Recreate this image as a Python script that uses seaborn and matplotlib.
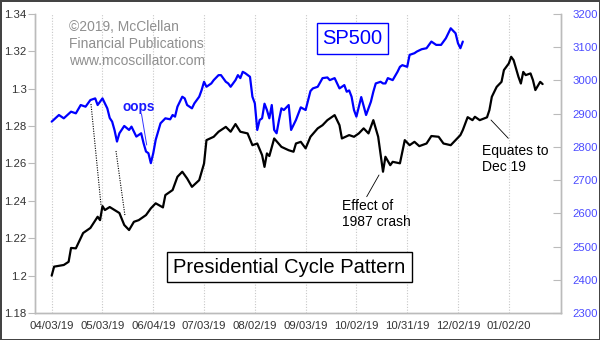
import matplotlib
matplotlib.use("Agg")
import matplotlib.pyplot as plt
from matplotlib.patches import Rectangle
from matplotlib.lines import Line2D
import seaborn as sns
import pandas as pd
import numpy as np

# ---------------- data ----------------
tick_days = [0, 21, 42, 63, 84, 105, 126, 147, 168, 189]
tick_labels = ["04/03/19", "05/03/19", "06/04/19", "07/03/19", "08/02/19",
               "09/03/19", "10/02/19", "10/31/19", "12/02/19", "01/02/20"]

cycle_days = [0, 1, 5, 7, 8, 10, 13, 16, 19, 20, 21, 22, 24, 26, 28, 30, 32, 34, 36, 39,
              41, 43, 46, 47, 50, 52, 54, 56, 58, 61, 63, 64, 67, 69, 72, 74, 76, 78, 81, 83,
              85, 87, 88, 89, 90, 92, 95, 98, 100, 101, 103, 105, 107, 110, 112, 114, 117, 119, 120, 123,
              125, 127, 129, 131, 133, 135, 137, 138, 140, 141, 144, 146, 148, 150, 152, 155, 157, 160, 162, 165,
              167, 169, 170, 172, 174, 175, 177, 180, 181, 182, 184, 186, 187, 189, 190, 191, 193, 194, 195, 196,
              198, 199, 200, 202, 203]
cycle_vals = [1.2000, 1.2048, 1.2057, 1.2074, 1.2148, 1.2146, 1.2228, 1.2255, 1.2315, 1.2297,
              1.2372, 1.2351, 1.2367, 1.2351, 1.2335, 1.2271, 1.2244, 1.2288, 1.2297, 1.2324,
              1.2360, 1.2387, 1.2365, 1.2431, 1.2458, 1.2529, 1.2556, 1.2520, 1.2475, 1.2511,
              1.2600, 1.2725, 1.2743, 1.2770, 1.2796, 1.2770, 1.2811, 1.2770, 1.2761, 1.2698,
              1.2707, 1.2645, 1.2582, 1.2654, 1.2640, 1.2734, 1.2689, 1.2671, 1.2663, 1.2707,
              1.2716, 1.2681, 1.2743, 1.2788, 1.2805, 1.2832, 1.2859, 1.2805, 1.2734, 1.2752,
              1.2743, 1.2761, 1.2788, 1.2761, 1.2832, 1.2743, 1.2556, 1.2636, 1.2591, 1.2609,
              1.2601, 1.2725, 1.2698, 1.2716, 1.2693, 1.2707, 1.2747, 1.2743, 1.2707, 1.2698,
              1.2725, 1.2752, 1.2779, 1.2848, 1.2832, 1.2850, 1.2832, 1.2847, 1.2886, 1.2957,
              1.3010, 1.3037, 1.3100, 1.3135, 1.3171, 1.3153, 1.3064, 1.3028, 1.3090, 1.3073,
              1.3082, 1.3046, 1.2993, 1.3037, 1.3025]

sp_days = [0, 3, 5, 8, 10, 12, 14, 16, 18, 19, 21, 23, 24, 25, 26, 27, 28, 30, 32, 33,
           35, 37, 38, 39, 40, 41, 42, 43, 45, 47, 49, 50, 51, 52, 54, 55, 56, 58, 59, 61,
           62, 63, 64, 66, 67, 69, 70, 72, 73, 74, 76, 77, 78, 79, 80, 82, 83, 84, 85, 86,
           87, 88, 89, 90, 91, 92, 93, 94, 95, 96, 98, 99, 100, 101, 103, 105, 107, 108, 110, 112,
           114, 115, 117, 119, 121, 122, 123, 124, 125, 126, 128, 130, 132, 133, 134, 136, 137, 138, 139, 141,
           143, 144, 145, 147, 148, 150, 151, 153, 155, 157, 159, 161, 163, 165, 167, 168, 169, 170]
sp_vals = [2876, 2896, 2886, 2906, 2901, 2926, 2921, 2941, 2946, 2926,
           2946, 2916, 2887, 2876, 2850, 2816, 2841, 2863, 2851, 2861,
           2831, 2841, 2811, 2786, 2781, 2751, 2781, 2821, 2871, 2886,
           2883, 2896, 2891, 2921, 2951, 2946, 2926, 2916, 2931, 2951,
           2971, 2996, 2981, 2991, 3001, 3016, 3016, 2996, 2991, 2981,
           3001, 3016, 3007, 3026, 3022, 3011, 2951, 2931, 2851, 2881,
           2886, 2930, 2911, 2886, 2926, 2851, 2841, 2881, 2916, 2911,
           2926, 2851, 2866, 2881, 2919, 2911, 2968, 2976, 2981, 3007,
           3009, 3001, 3007, 2976, 2986, 2966, 2970, 2951, 2911, 2891,
           2950, 2896, 2936, 2966, 2991, 2996, 2991, 2991, 3007, 3001,
           3026, 3041, 3046, 3041, 3077, 3082, 3087, 3094, 3097, 3117,
           3107, 3107, 3127, 3157, 3142, 3112, 3097, 3117]

left_ticks = [1.18, 1.20, 1.22, 1.24, 1.26, 1.28, 1.30, 1.32, 1.34]
left_labels = ["1.18", "1.2", "1.22", "1.24", "1.26", "1.28", "1.3", "1.32", "1.34"]
right_ticks = [2300, 2400, 2500, 2600, 2700, 2800, 2900, 3000, 3100, 3200]

# ---------------- style ----------------
sns.set_theme(style="white")
plt.rcParams["font.family"] = ["Liberation Sans", "DejaVu Sans"]

W, H = 600, 340
fig = plt.figure(figsize=(6, 3.4), dpi=100, facecolor="white",
                 edgecolor="#444444", linewidth=2)

def fx(x):
    return x / W

def fy(y):
    return 1 - y / H

ax = fig.add_axes([fx(35), fy(313), fx(561) - fx(35), fy(14) - fy(313)])
ax2 = ax.twinx()

df_cycle = pd.DataFrame({"day": cycle_days, "val": cycle_vals})
df_sp = pd.DataFrame({"day": sp_days, "val": sp_vals})

sns.lineplot(data=df_cycle, x="day", y="val", ax=ax, color="black", lw=1.6)
sns.lineplot(data=df_sp, x="day", y="val", ax=ax2, color="#0000ff", lw=1.6)

ax.set_xlim(-6.9, 210.6)
ax.set_ylim(1.18, 1.34)
ax2.set_ylim(2300, 3200)

ax.set_xticks(tick_days)
ax.set_xticklabels(tick_labels)
ax.set_yticks(left_ticks)
ax.set_yticklabels(left_labels)
ax2.set_yticks(right_ticks)
ax2.set_yticklabels([str(v) for v in right_ticks])

for a in (ax, ax2):
    a.set_xlabel("")
    a.set_ylabel("")
    for s in a.spines.values():
        s.set_color("#bbbbbb")
        s.set_linewidth(1.0)
    a.spines["top"].set_visible(False)

ax.xaxis.grid(True, color="#c8c8c8", linestyle=(0, (1, 1.5)), linewidth=0.8)
ax.yaxis.grid(False)
ax2.grid(False)

ax.tick_params(axis="x", length=0, pad=6, labelsize=8.2, labelcolor="#333333")
ax.tick_params(axis="y", direction="out", length=5, width=0.8, color="#bbbbbb",
               pad=1, labelsize=8.2, labelcolor="#333333", left=True)
ax2.tick_params(axis="y", direction="in", length=6, width=0.8, color="#bbbbbb",
                pad=8, labelsize=8.2, labelcolor="#4b4bff", right=True)

# ---------------- annotations ----------------
for i, line in enumerate(["\u00a92019, McClellan", "Financial Publications",
                          "www.mcoscillator.com"]):
    fig.text(fx(69), fy(27 + i * 17.2), line, ha="left", va="center",
             fontsize=10, color="#8f8f8f")

# SP500 box
fig.patches.append(Rectangle((fx(316.7), fy(54)), fx(388.3) - fx(316.7), fy(23.3) - fy(54),
                             transform=fig.transFigure, facecolor="white",
                             edgecolor="#0000ff", linewidth=1.0, zorder=2))
fig.text(fx(352.5), fy(39), "SP500", ha="center", va="center",
         fontsize=14.5, color="#0000ff", zorder=3)

# Presidential Cycle Pattern box
fig.patches.append(Rectangle((fx(167.3), fy(282.3)), fx(411.7) - fx(167.3), fy(251.7) - fy(282.3),
                             transform=fig.transFigure, facecolor="white",
                             edgecolor="black", linewidth=1.0, zorder=2))
fig.text(fx(289.5), fy(267.5), "Presidential Cycle Pattern", ha="center", va="center",
         fontsize=14.5, color="black", zorder=3)

# oops
fig.text(fx(139), fy(107), "oops", ha="center", va="center", fontsize=9.8,
         fontweight="bold", color="#1a1aff")
fig.lines.append(Line2D([fx(141.5), fx(146.7)], [fy(114), fy(145)],
                        transform=fig.transFigure, color="#3333ff", lw=0.7))

# dotted connectors
fig.lines.append(Line2D([fx(91), fx(101)], [fy(104), fy(205)], transform=fig.transFigure,
                        color="black", lw=0.8, linestyle=(0, (1, 1.2))))
fig.lines.append(Line2D([fx(116), fx(125)], [fy(151), fy(216)], transform=fig.transFigure,
                        color="black", lw=0.8, linestyle=(0, (1, 1.2))))

# Effect of 1987 crash
fig.text(fx(342.5), fy(210), "Effect of", ha="left", va="baseline", fontsize=10, color="black")
fig.text(fx(342.5), fy(226.5), "1987 crash", ha="left", va="baseline", fontsize=10, color="black")
fig.lines.append(Line2D([fx(366.7), fx(379)], [fy(196.7), fy(175)], transform=fig.transFigure,
                        color="black", lw=0.6))

# Equates to Dec 19
fig.text(fx(482.5), fy(155), "Equates to", ha="left", va="baseline", fontsize=10, color="black")
fig.text(fx(482.5), fy(171), "Dec 19", ha="left", va="baseline", fontsize=10, color="black")
fig.lines.append(Line2D([fx(491), fx(508.3)], [fy(120), fy(138.3)], transform=fig.transFigure,
                        color="black", lw=0.6))

fig.savefig("out.png", dpi=100, facecolor=fig.get_facecolor(), edgecolor=fig.get_edgecolor())
